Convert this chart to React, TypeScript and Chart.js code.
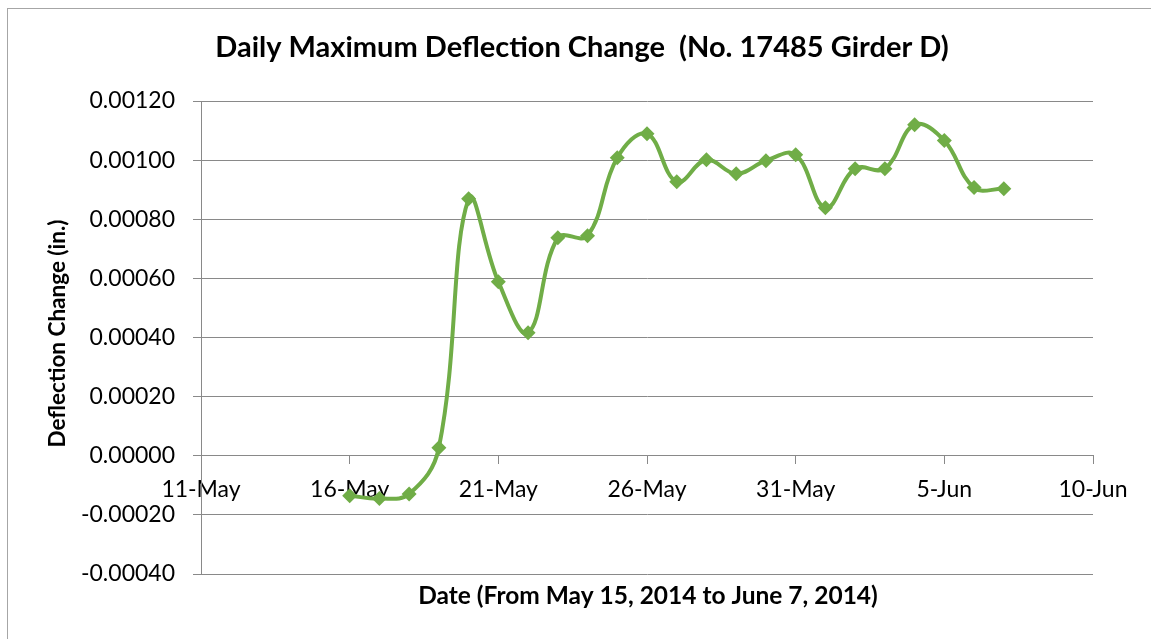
import React, { useEffect, useRef } from "react";
import { Chart, registerables } from "chart.js";

Chart.register(...registerables);

// Dates of the daily readings (2014)
const dates: string[] = [
  "2014-05-16", "2014-05-17", "2014-05-18", "2014-05-19", "2014-05-20", "2014-05-21",
  "2014-05-22", "2014-05-23", "2014-05-24", "2014-05-25", "2014-05-26", "2014-05-27",
  "2014-05-28", "2014-05-29", "2014-05-30", "2014-05-31", "2014-06-01", "2014-06-02",
  "2014-06-03", "2014-06-04", "2014-06-05", "2014-06-06", "2014-06-07",
];

// Daily maximum deflection change (in.)
const deflection: number[] = [
  -0.000135, -0.000145, -0.000129, 0.000027, 0.000869, 0.000589,
  0.000416, 0.000737, 0.000744, 0.001008, 0.001089, 0.000927,
  0.001001, 0.000954, 0.000998, 0.001018, 0.000839, 0.000971,
  0.000971, 0.00112, 0.001066, 0.000907, 0.000903,
];

const xTickLabels: string[] = ["11-May", "16-May", "21-May", "26-May", "31-May", "5-Jun", "10-Jun"];
const xStartDate = "2014-05-11";
const xEndDate = "2014-06-10";
const xStepDays = 5;

const yMin = -0.0004;
const yMax = 0.0012;
const yStep = 0.0002;

const chartTitle = "Daily Maximum Deflection Change  (No. 17485 Girder D)";
const xAxisTitle = "Date (From May 15, 2014 to June 7, 2014)";
const yAxisTitle = "Deflection Change (in.)";

const DAY = 86400000;
const dayOffset = (d: string) =>
  Math.round((Date.parse(d + "T00:00:00Z") - Date.parse(xStartDate + "T00:00:00Z")) / DAY);

const FONT = "Lato, 'Open Sans', sans-serif";
const GREEN = "#70AD47";
const GRID = "#898989";

export default function App() {
  const canvasRef = useRef<HTMLCanvasElement | null>(null);

  useEffect(() => {
    document.body.style.margin = "0";
    const canvas = canvasRef.current;
    if (!canvas) return;

    const titlesPlugin = {
      id: "customTitles",
      afterDraw(chart: any) {
        const ctx = chart.ctx;
        const area = chart.chartArea;
        ctx.save();
        ctx.fillStyle = "#000";
        ctx.textAlign = "center";
        ctx.textBaseline = "middle";
        ctx.font = `bold 29px ${FONT}`;
        ctx.fillText(chartTitle, 582, 48);
        ctx.font = `bold 24.5px ${FONT}`;
        ctx.fillText(xAxisTitle, 648, 596);
        ctx.font = `bold 22.5px ${FONT}`;
        ctx.translate(58, (area.top + area.bottom) / 2 - 4);
        ctx.rotate(-Math.PI / 2);
        ctx.fillText(yAxisTitle, 0, 0);
        ctx.restore();
      },
    };

    const chart = new Chart(canvas, {
      type: "line",
      data: {
        datasets: [
          {
            data: dates.map((d, i) => ({ x: dayOffset(d), y: deflection[i] })),
            borderColor: GREEN,
            backgroundColor: GREEN,
            borderWidth: 4,
            tension: 0.4,
            pointStyle: "rectRot",
            pointRadius: 7.5,
            pointBorderWidth: 0,
            pointBackgroundColor: GREEN,
            fill: false,
          },
        ],
      },
      options: {
        animation: false,
        responsive: false,
        devicePixelRatio: 1,
        layout: { padding: { top: 101, bottom: 65, left: 0, right: 58 } },
        plugins: {
          legend: { display: false },
          title: { display: false },
          tooltip: { enabled: false },
        },
        scales: {
          x: {
            type: "linear",
            position: { y: 0 } as any,
            min: 0,
            max: dayOffset(xEndDate),
            ticks: {
              stepSize: xStepDays,
              autoSkip: false,
              maxRotation: 0,
              padding: 12,
              color: "#000",
              font: { family: FONT, size: 23 },
              callback: (_v: any, i: number) => xTickLabels[i],
            },
            grid: {
              display: true,
              drawOnChartArea: false,
              drawTicks: true,
              tickLength: 8,
              color: GRID,
            },
            border: { display: true, color: GRID, width: 1 },
          },
          y: {
            type: "linear",
            min: yMin,
            max: yMax,
            afterFit: (scale: any) => {
              scale.width = 201;
            },
            ticks: {
              stepSize: yStep,
              padding: 18,
              color: "#000",
              font: { family: FONT, size: 23 },
              callback: (v: any) => {
                const n = Math.abs(Number(v)) < 1e-12 ? 0 : Number(v);
                return n.toFixed(5);
              },
            },
            grid: {
              color: GRID,
              drawTicks: true,
              tickLength: 8,
            },
            border: { display: true, color: GRID, width: 1 },
          },
        },
      },
      plugins: [titlesPlugin],
    });

    return () => chart.destroy();
  }, []);

  return (
    <div style={{ position: "relative", width: 1151, height: 639, overflow: "hidden", background: "#fff" }}>
      <div
        style={{
          position: "absolute",
          left: 7,
          top: 8,
          width: 1200,
          height: 700,
          border: "1px solid #A6A6A6",
          boxSizing: "border-box",
        }}
      />
      <canvas
        ref={canvasRef}
        width={1151}
        height={639}
        style={{ position: "absolute", left: 0, top: 0, width: 1151, height: 639 }}
      />
    </div>
  );
}
